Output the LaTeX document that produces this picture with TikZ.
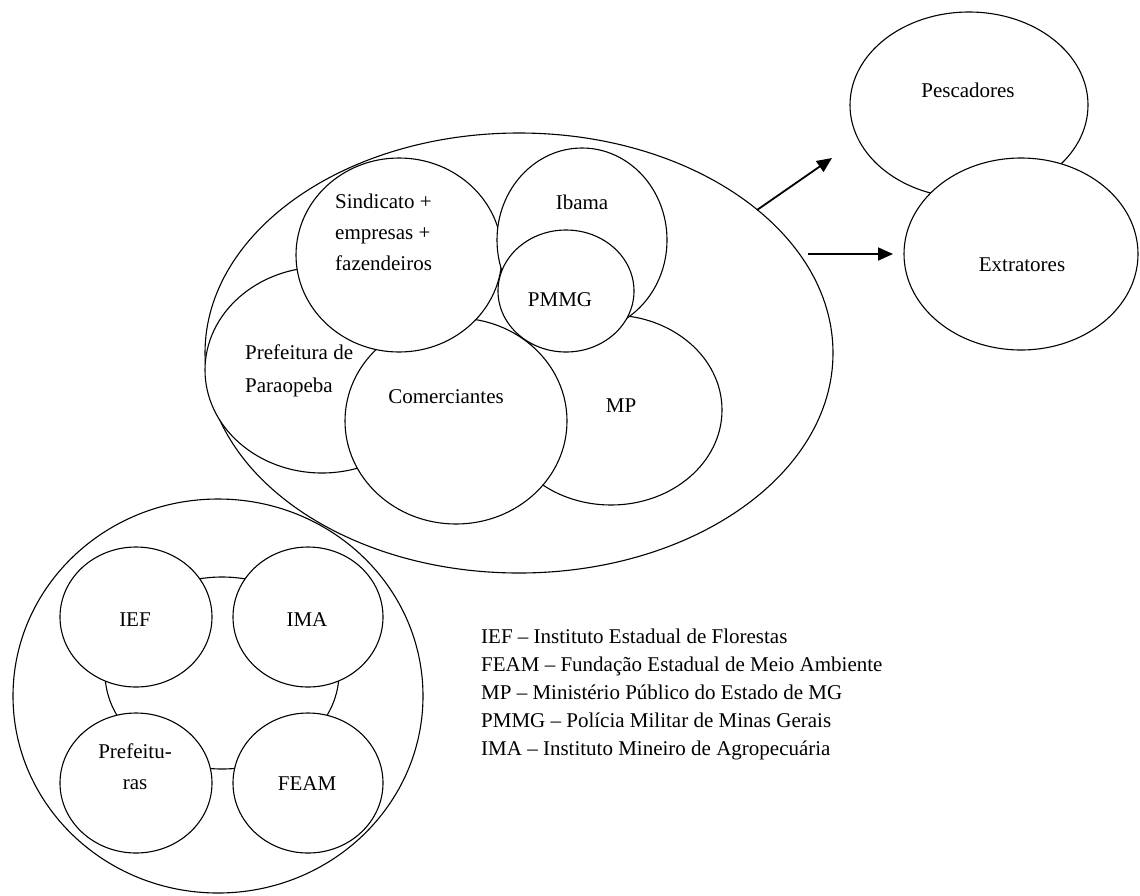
\documentclass[tikz,border=0pt]{standalone}
\usepackage{fontspec}
\setmainfont{Liberation Serif}
\usetikzlibrary{shapes.geometric,arrows.meta}
\begin{document}
\begin{tikzpicture}[x=1pt,y=-1pt,
  ov/.style={ellipse,draw,fill=white,line width=1.1pt,inner sep=0pt,outer sep=0pt},
  ring/.style={ellipse,draw,line width=1.1pt,inner sep=0pt,outer sep=0pt},
  txt/.style={font=\fontsize{21}{31}\selectfont,inner sep=0pt},
  arr/.style={line width=1.8pt,-{Triangle[length=15pt,width=13pt]}}]
\useasboundingbox (0,0) rectangle (1140,895);

% central group
\node[ov,minimum width=628pt,minimum height=440pt] (big) at (519,353) {};
\node[ov,minimum width=234pt,minimum height=206pt] (pref) at (322,370) {};
\node[ov,minimum width=222pt,minimum height=190pt] (mp) at (611,410) {};
\node[ov,minimum width=222pt,minimum height=206pt] (com) at (456,421) {};
\node[ov,minimum width=206pt,minimum height=194pt] (sind) at (399,255) {};
\node[ov,minimum width=170pt,minimum height=184pt] (ibama) at (582,240) {};
\node[ov,minimum width=136pt,minimum height=122pt] (pmmg) at (566,291) {};

\node[txt,align=left,anchor=west] (tsind) at (335,232) {Sindicato +\\empresas +\\fazendeiros};
\node[txt] (tibama) at (582,202) {Ibama};
\node[txt] (tpmmg) at (560,300) {PMMG};
\node[txt,align=left,anchor=west,font=\fontsize{21}{33}\selectfont] (tpref) at (245,371) {Prefeitura de\\Paraopeba};
\node[txt] (tcom) at (446,397) {Comerciantes};
\node[txt] (tmp) at (621,406) {MP};

% right group
\node[ov,minimum width=238pt,minimum height=186pt] (pesc) at (969,105) {};
\node[ov,minimum width=234pt,minimum height=192pt] (extr) at (1021,254) {};
\node[txt] (tpesc) at (968,90) {Pescadores};
\node[txt] (textr) at (1022,265) {Extratores};

% arrows
\coordinate (p1) at (832,158);
\coordinate (p2) at (808,254);
\draw[arr] (big.31) -- (p1);
\draw[arr,shorten >=11pt] (p2) -- (extr.west);

% bottom-left group
\node[ring,minimum width=410pt,minimum height=394pt] (outer) at (218,696) {};
\node[ring,minimum width=234pt,minimum height=192pt] (inner) at (222,673) {};
\node[ov,minimum width=152pt,minimum height=140pt] (ief) at (136,617) {};
\node[ov,minimum width=150pt,minimum height=140pt] (ima) at (308,617) {};
\node[ov,minimum width=152pt,minimum height=140pt] (prefs) at (136,783) {};
\node[ov,minimum width=150pt,minimum height=140pt] (feam) at (308,783) {};
\node[txt] (tief) at (135,620) {IEF};
\node[txt] (tima) at (307,620) {IMA};
\node[txt,align=center] (tprefs) at (135,767) {Prefeitu-\\ras};
\node[txt] (tfeam) at (307,784) {FEAM};

% legend
\node[txt,align=left,anchor=west,font=\fontsize{21}{28}\selectfont] (legend) at (481,694)
 {IEF – Instituto Estadual de Florestas\\
  FEAM – Fundação Estadual de Meio Ambiente\\
  MP – Ministério Público do Estado de MG\\
  PMMG – Polícia Militar de Minas Gerais\\
  IMA – Instituto Mineiro de Agropecuária};
\end{tikzpicture}
\end{document}
